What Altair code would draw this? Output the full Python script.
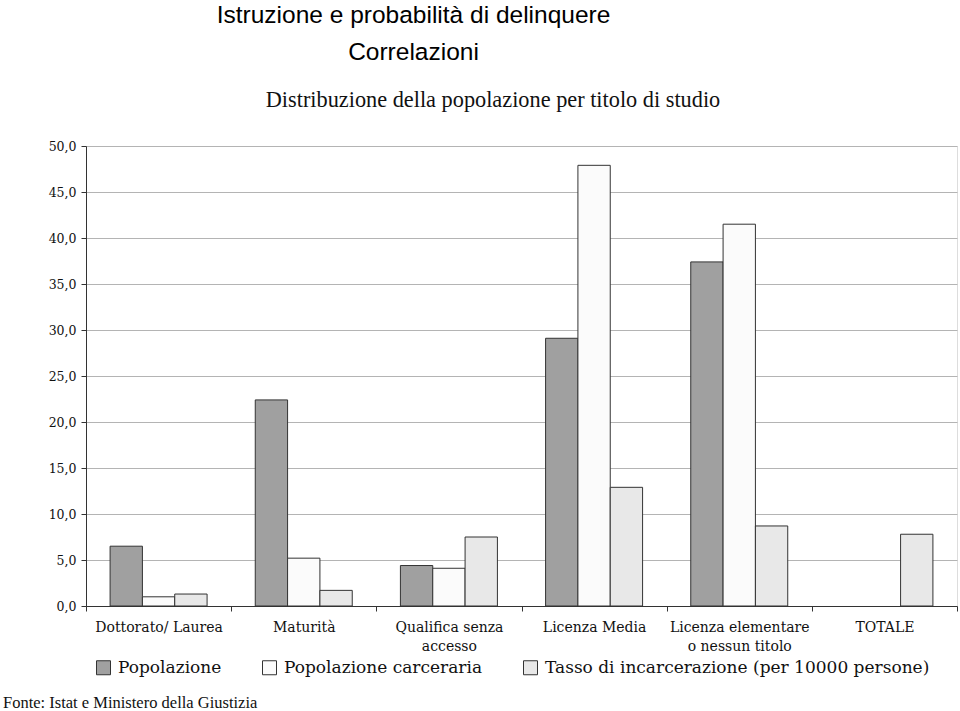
import altair as alt
import pandas as pd

categories = ["Dottorato/  Laurea", "Maturità", "Qualifica senza|accesso",
              "Licenza Media", "Licenza elementare|o  nessun titolo", "TOTALE"]
series = ["Popolazione", "Popolazione carceraria",
          "Tasso di incarcerazione (per 10000 persone)"]
popolazione = [6.5, 22.4, 4.4, 29.1, 37.4, None]
carceraria = [1.0, 5.2, 4.1, 47.9, 41.5, None]
tasso = [1.3, 1.7, 7.5, 12.9, 8.7, 7.8]
colors = ["#a0a0a0", "#fbfbfb", "#e8e8e8"]

title_lines = ["Istruzione e probabilità di delinquere", "Correlazioni"]
subtitle_text = "Distribuzione della popolazione per titolo di studio"
source_text = "Fonte: Istat e Ministero della Giustizia"

rows = []
for s, vals in zip(series, [popolazione, carceraria, tasso]):
    for c, v in zip(categories, vals):
        if v is not None:
            rows.append({"categoria": c, "serie": s, "valore": v})
df = pd.DataFrame(rows)

W, H = 871, 460
SERIF = "DejaVu Serif"

bars = alt.Chart(df).mark_bar(stroke="#333333", strokeWidth=1).encode(
    x=alt.X("categoria:N", sort=categories,
            scale=alt.Scale(paddingInner=0, paddingOuter=0),
            axis=alt.Axis(title=None, labelAngle=0, tickBand="extent",
                          labelExpr="split(datum.label, '|')",
                          labelFont=SERIF, labelFontSize=14, labelColor="#111",
                          labelPadding=9, labelLineHeight=19,
                          tickSize=5, tickColor="#333", domainColor="#333",
                          grid=False)),
    xOffset=alt.XOffset("serie:N", sort=series,
                        scale=alt.Scale(paddingInner=0, paddingOuter=0.745)),
    y=alt.Y("valore:Q",
            scale=alt.Scale(domain=[0, 50], nice=False),
            axis=alt.Axis(title=None, values=list(range(0, 55, 5)),
                          labelExpr="replace(format(datum.value, '.1f'), '.', ',')",
                          labelFont=SERIF, labelFontSize=12.5, labelColor="#111",
                          labelPadding=5, tickSize=5, tickColor="#333",
                          domainColor="#333", gridColor="#b4b4b4", gridWidth=1)),
    color=alt.Color("serie:N", sort=series,
                    scale=alt.Scale(domain=series, range=colors),
                    legend=alt.Legend(title=None, orient="none", direction="horizontal",
                                      legendX=9, legendY=513,
                                      symbolType="square", symbolSize=196,
                                      symbolStrokeColor="#333", symbolStrokeWidth=1,
                                      labelFont=SERIF, labelFontSize=17, labelColor="#111",
                                      labelLimit=600, labelOffset=6, columnPadding=38)),
)

sub = alt.Chart(pd.DataFrame({"t": [subtitle_text]})).mark_text(
    font="Liberation Serif", fontSize=22.3, align="center", baseline="middle", color="#111"
).encode(text="t:N", x=alt.value(407), y=alt.value(-46))

src = alt.Chart(pd.DataFrame({"t": [source_text]})).mark_text(
    font="Liberation Serif", fontSize=16.5, align="left", baseline="middle", color="#111"
).encode(text="t:N", x=alt.value(-83), y=alt.value(557))

chart = alt.layer(bars, sub, src).properties(
    width=W, height=H,
    autosize=alt.AutoSizeParams(type="none"),
    padding={"left": 86, "top": 146, "right": 3, "bottom": 105},
    title=alt.TitleParams(text=title_lines, font="Liberation Sans",
                          fontSize=24.5, fontWeight="normal", color="#000",
                          anchor="middle", dx=-108, offset=24, lineHeight=37),
).configure_view(stroke="#333333", strokeWidth=1).configure(background="white")

chart.save("out.html", embed_options={"renderer": "svg", "actions": False})
